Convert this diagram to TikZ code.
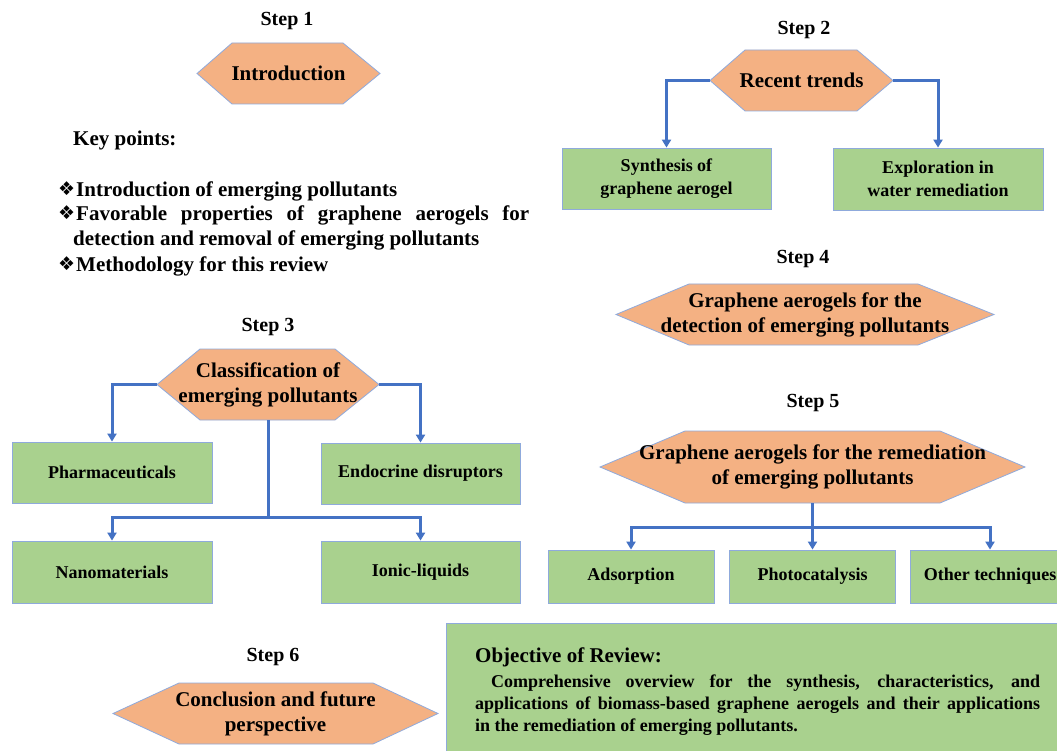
\documentclass[tikz,border=0pt]{standalone}
\usepackage{fontspec}
\setmainfont{Liberation Serif}
\newfontfamily\dejavu{DejaVu Sans}
\usetikzlibrary{arrows.meta,calc}
\definecolor{hexorange}{HTML}{F4B183}
\definecolor{boxgreen}{HTML}{A9D18E}
\definecolor{edgeblue}{HTML}{8FAADC}
\definecolor{linkblue}{HTML}{4472C4}
\newcommand\hexnode[8]{%
  \draw[hexshape] ({#2},{(#6+#7)/2}) -- ({#3},#6) -- ({#4},#6) -- ({#5},{(#6+#7)/2}) -- ({#4},#7) -- ({#3},#7) -- cycle;
  \node[hextext, minimum width={(#5-#2)*1pt}, minimum height={(#7-#6)*1pt}] (#1) at ({(#2+#5)/2},{(#6+#7)/2}) {#8};
}
\newcommand\kpbullet{\raisebox{1pt}{\dejavu\fontsize{19}{19}\selectfont ❖}\hspace{1pt}}
\tikzset{
  steplabel/.style={font=\fontsize{20}{24}\selectfont\bfseries, inner sep=0pt},
  hexshape/.style={fill=hexorange, draw=edgeblue, line width=0.8pt},
  hextext/.style={rectangle, font=\fontsize{21}{25}\selectfont\bfseries, align=center, inner sep=0pt},
  gbox/.style={rectangle, fill=boxgreen, draw=edgeblue, line width=0.8pt, font=\fontsize{18}{23}\selectfont\bfseries, align=center, inner sep=0pt},
  link/.style={draw=linkblue, line width=3pt},
  arr/.style={link, -{Triangle[width=9pt,length=8pt]}},
  kp/.style={anchor=west, font=\fontsize{21}{25}\selectfont\bfseries, inner sep=0pt},
}
\begin{document}
\begin{tikzpicture}[x=1pt,y=-1pt]
\useasboundingbox (0,0) rectangle (1057,751);
\clip (0,0) rectangle (1057,751);
\fill[white] (0,0) rectangle (1057,751);

% Step 1
\node[steplabel] (s1) at (287,21) {Step 1};
\hexnode{intro}{197}{232}{343}{380}{43}{104}{Introduction}
\node[kp] (kphead) at (73,140) {Key points:};
\node[kp] (kp1) at (58,191) {\kpbullet Introduction of emerging pollutants};
\node[kp] (kp2) at (58,215) {\kpbullet\makebox[453pt][s]{Favorable properties of graphene aerogels for}};
\node[kp] (kp2b) at (73,240) {detection and removal of emerging pollutants};
\node[kp] (kp3) at (58,266) {\kpbullet Methodology for this review};

% Step 2
\node[steplabel] (s2) at (804,30) {Step 2};
\hexnode{trends}{710}{745}{857}{893}{50}{111}{Recent trends}
\node[gbox, minimum width=209pt, minimum height=61pt] (synth) at (666.5,178.5) {Synthesis of\\graphene aerogel};
\node[gbox, minimum width=210pt, minimum height=62pt] (explor) at (938,179) {Exploration in\\water remediation};
\draw[arr] (trends.west) -| (synth.north);
\draw[arr] (trends.east) -| (explor.north);

% Step 4
\node[steplabel] (s4) at (803,259) {Step 4};
\hexnode{detect}{616}{689}{918}{994}{284}{345}{Graphene aerogels for the\\detection of emerging pollutants}

% Step 3
\node[steplabel] (s3) at (268,327) {Step 3};
\hexnode{class}{157}{200}{335}{379}{349}{420}{Classification of\\emerging pollutants}
\node[gbox, minimum width=200pt, minimum height=61pt] (pharm) at (112,472.5) {Pharmaceuticals};
\node[gbox, minimum width=199pt, minimum height=61pt] (endo) at (420.5,473.5) {Endocrine disruptors};
\node[gbox, minimum width=200pt, minimum height=62pt] (nano) at (112,572) {Nanomaterials};
\node[gbox, minimum width=199pt, minimum height=62pt] (ionic) at (420.5,572) {Ionic-liquids};
\coordinate (cj) at (268,517);
\draw[arr] (class.west) -| (pharm.north);
\draw[arr] (class.east) -| (endo.north);
\draw[link] (class.south) -- (cj);
\draw[arr] (cj) -| (nano.north);
\draw[arr] (cj) -| (ionic.north);

% Step 5
\node[steplabel] (s5) at (813,403) {Step 5};
\hexnode{rem}{600}{685}{940}{1025}{431}{503}{Graphene aerogels for the remediation\\of emerging pollutants}
\node[gbox, minimum width=166pt, minimum height=53pt] (ads) at (631,576.5) {Adsorption};
\node[gbox, minimum width=166pt, minimum height=53pt] (photo) at (812.5,576.5) {Photocatalysis};
\node[gbox, minimum width=160pt, minimum height=53pt] (other) at (990,576.5) {Other techniques};
\coordinate (rj) at (812.5,527);
\draw[arr] (rem.south) -- (photo.north);
\draw[arr] (rj) -| (ads.north);
\draw[arr] (rj) -| (other.north);

% Step 6
\node[steplabel] (s6) at (273,657) {Step 6};
\hexnode{concl}{113}{179}{373}{438}{683}{744}{Conclusion and future\\perspective}

% Objective
\node[gbox, minimum width=624pt, minimum height=147pt, anchor=north west] (objbox) at (446,623) {};
\node[kp] (objhead) at (475,657) {Objective of Review:};
\node[anchor=north west, text width=565pt, align=justify, inner sep=0pt, font=\fontsize{18}{22}\selectfont\bfseries] (objtext) at (475,675)
  {\hspace*{16pt}Comprehensive overview for the synthesis, characteristics, and\linebreak applications of biomass-based graphene aerogels and their applications\linebreak in the remediation of emerging pollutants.};
\end{tikzpicture}
\end{document}
